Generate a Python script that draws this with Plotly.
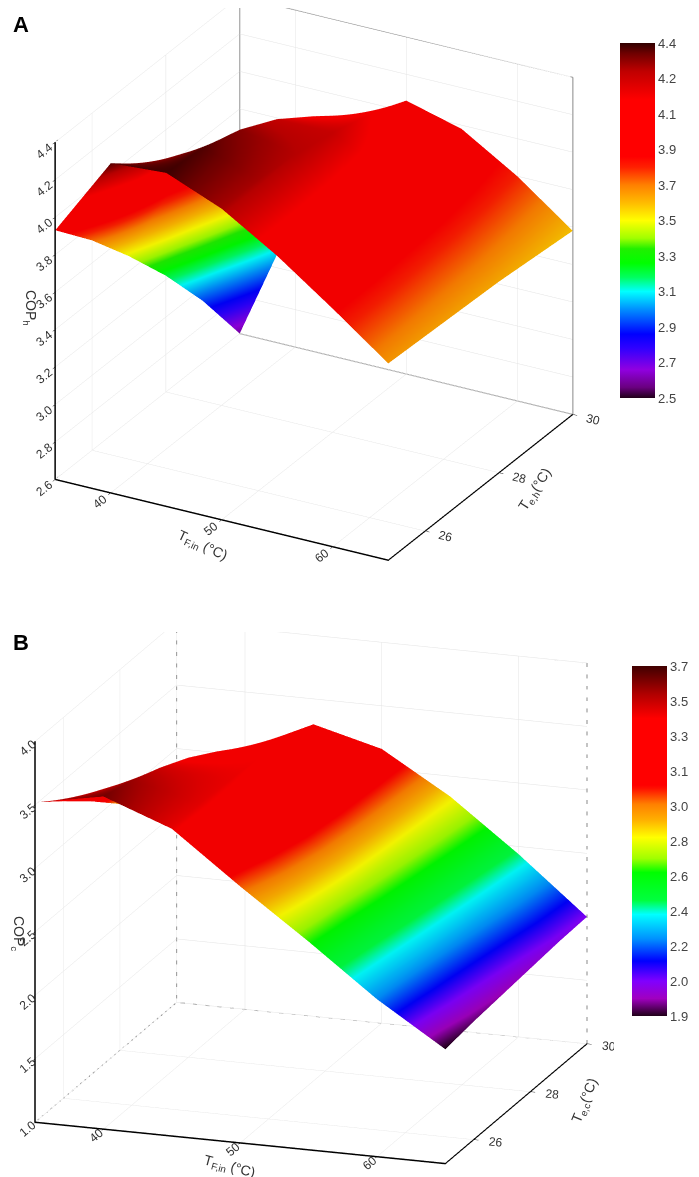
import numpy as np
import plotly.graph_objects as go

# T_F,in (°C) and T_e (°C) grid
t_f_in = [35, 40, 45, 50, 55, 60, 65]
t_e = [25, 26, 27, 28, 29, 30]

# COP_h (rows = t_e, cols = t_f_in)
cop_h = [
    [3.93, 4.36, 4.38, 4.26, 4.08, 3.87, 3.65],
    [3.72, 4.20, 4.36, 4.26, 4.08, 3.87, 3.64],
    [3.48, 4.02, 4.30, 4.24, 4.07, 3.86, 3.63],
    [3.22, 3.82, 4.20, 4.20, 4.05, 3.85, 3.62],
    [2.93, 3.58, 4.06, 4.14, 4.02, 3.83, 3.60],
    [2.60, 3.30, 3.88, 4.06, 3.98, 3.80, 3.58],
]

# COP_c
cop_c = [
    [3.52, 3.62, 3.42, 3.02, 2.64, 2.24, 1.90],
    [3.34, 3.56, 3.43, 3.06, 2.68, 2.28, 1.93],
    [3.15, 3.47, 3.42, 3.09, 2.73, 2.32, 1.95],
    [2.94, 3.36, 3.40, 3.12, 2.77, 2.36, 1.97],
    [2.68, 3.22, 3.36, 3.14, 2.81, 2.40, 1.99],
    [2.40, 3.05, 3.30, 3.16, 2.84, 2.44, 2.00],
]

# colour bar level labels (Origin style, not evenly spaced)
levels_h = [2.5, 2.7, 2.9, 3.1, 3.3, 3.5, 3.7, 3.9, 4.1, 4.2, 4.4]
levels_c = [1.9, 2.0, 2.2, 2.4, 2.6, 2.8, 3.0, 3.1, 3.3, 3.5, 3.7]

scale_h = [
    [0.00, '#200018'], [0.03, '#6a0080'], [0.08, '#9000e0'], [0.14, '#3000ff'],
    [0.18, '#0000ff'], [0.25, '#0090ff'], [0.30, '#00ffff'], [0.34, '#00ff60'],
    [0.38, '#00ff00'], [0.42, '#20f000'], [0.45, '#a0ff00'], [0.50, '#ffff00'],
    [0.55, '#ffbb00'], [0.60, '#ff8000'], [0.65, '#ff2000'], [0.68, '#ff0000'],
    [0.84, '#ff0000'], [0.92, '#c00000'], [0.97, '#700000'], [1.00, '#300000'],
]
scale_c = [
    [0.00, '#200018'], [0.05, '#a000c0'], [0.10, '#8000ff'], [0.157, '#0000ff'],
    [0.22, '#0090ff'], [0.29, '#00ffff'], [0.33, '#00ff40'], [0.41, '#00ff00'],
    [0.45, '#a0ff00'], [0.51, '#ffff00'], [0.56, '#ffb000'], [0.605, '#ff8000'],
    [0.65, '#ff1000'], [0.66, '#ff0000'], [0.85, '#ff0000'], [0.92, '#b00000'],
    [1.00, '#400000'],
]

W, H = 699, 1177
FONT = 'Arial, Liberation Sans, sans-serif'


def px(x, y):
    return x / W, 1 - y / H


def surface(z, levels, cscale, bar_x, bar_top, bar_bottom, scene):
    z = np.array(z)
    idx = np.arange(len(levels))
    sc = np.interp(z, levels, idx)
    _, ymid = px(0, (bar_top + bar_bottom) / 2)
    return go.Surface(
        x=t_f_in, y=t_e, z=z, surfacecolor=sc,
        cmin=0, cmax=len(levels) - 1, colorscale=cscale,
        lighting=dict(ambient=0.95, diffuse=0.15, specular=0.0, roughness=1, fresnel=0),
        lightposition=dict(x=100, y=-200, z=1000),
        showscale=True, scene=scene,
        colorbar=dict(
            x=bar_x / W, xanchor='left', y=ymid, yanchor='middle',
            len=bar_bottom - bar_top, lenmode='pixels', thickness=35,
            xpad=0, ypad=0, outlinewidth=0,
            tickvals=list(idx), ticktext=['%.1f' % v for v in levels],
            ticks='', tickfont=dict(size=13, color='#444', family=FONT),
        ),
    )


def frame(zr, dash, scene):
    # grey back edges of the box (Origin style)
    x0, x1 = t_f_in[0], t_f_in[-1]
    y0, y1 = t_e[0], t_e[-1]
    z0, z1 = zr
    xs = [x0, x0, x1, None, x0, x0, None, x1, x1, None, x0, x0, x1]
    ys = [y0, y1, y1, None, y1, y1, None, y1, y1, None, y0, y1, y1]
    zs = [z1, z1, z1, None, z0, z1, None, z0, z1, None, z0, z0, z0]
    return go.Scatter3d(x=xs, y=ys, z=zs, mode='lines', scene=scene,
                        line=dict(color='#888', width=2, dash=dash),
                        showlegend=False, hoverinfo='skip')


def axis(rng, tickvals, fmt):
    return dict(
        title=dict(text=''), range=rng, tickvals=tickvals, tickformat=fmt,
        showgrid=True, gridcolor='#e4e4e4', gridwidth=1,
        showline=True, linecolor='black', linewidth=3,
        ticks='outside', tickcolor='black', ticklen=5,
        tickfont=dict(size=12, color='#333', family=FONT),
        showbackground=False, zeroline=False, showspikes=False,
    )


def cam(dx, dy, dz, dist, cz):
    return dict(eye=dict(x=dx * dist, y=dy * dist, z=dz * dist + cz),
                center=dict(x=0, y=0, z=cz),
                projection=dict(type='orthographic'))


fig = go.Figure()
fig.add_trace(surface(cop_h, levels_h, scale_h, 612, 35, 390, 'scene'))
fig.add_trace(frame((2.6, 4.4), 'solid', 'scene'))
fig.add_trace(surface(cop_c, levels_c, scale_c, 624, 658, 1008, 'scene2'))
fig.add_trace(frame((1.0, 4.0), 'dot', 'scene2'))

fig.update_layout(
    width=W, height=H, margin=dict(l=0, r=0, t=0, b=0),
    paper_bgcolor='white', showlegend=False,
    font=dict(family=FONT),
    scene=dict(
        domain=dict(x=[0, 0.875], y=[0.51, 1.0]),
        xaxis=axis([35, 65], [40, 50, 60], 'd'),
        yaxis=axis([25, 30], [26, 28, 30], 'd'),
        zaxis=axis([2.6, 4.4], [2.6, 2.8, 3.0, 3.2, 3.4, 3.6, 3.8, 4.0, 4.2, 4.4], '.1f'),
        aspectmode='manual', aspectratio=dict(x=1.32, y=1.32, z=1.30),
        camera=cam(0.436, -0.787, 0.438, 2.0, -0.07),
    ),
    scene2=dict(
        domain=dict(x=[0, 0.867], y=[0.0, 0.47]),
        xaxis=axis([35, 65], [40, 50, 60], 'd'),
        yaxis=axis([25, 30], [26, 28, 30], 'd'),
        zaxis=axis([1.0, 4.0], [1.0, 1.5, 2.0, 2.5, 3.0, 3.5, 4.0], '.1f'),
        aspectmode='manual', aspectratio=dict(x=1.57, y=1.57, z=1.44),
        camera=cam(0.312, -0.904, 0.292, 2.0, -0.06),
    ),
)

labels = [
    ('<b>A</b>', 13, 16, 0, 22),
    ('<b>B</b>', 13, 634, 0, 22),
    ('COP<sub>h</sub>', 22, 300, 90, 14),
    ('T<sub>F,in</sub> (°C)', 195, 538, 25, 14),
    ('T<sub>e,h</sub>(°C)', 527, 482, -57, 14),
    ('COP<sub>c</sub>', 10, 925, 90, 14),
    ('T<sub>F,in</sub> (°C)', 222, 1159, 15, 14),
    ('T<sub>e,c</sub>(°C)', 577, 1093, -68, 14),
]
for text, x, y, ang, size in labels:
    ax, ay = px(x, y)
    fig.add_annotation(text=text, x=ax, y=ay, xref='paper', yref='paper',
                       xanchor='center', yanchor='middle',
                       showarrow=False, textangle=ang,
                       font=dict(size=size, color='#333' if size < 20 else 'black', family=FONT))

fig.write_html('out.html')
